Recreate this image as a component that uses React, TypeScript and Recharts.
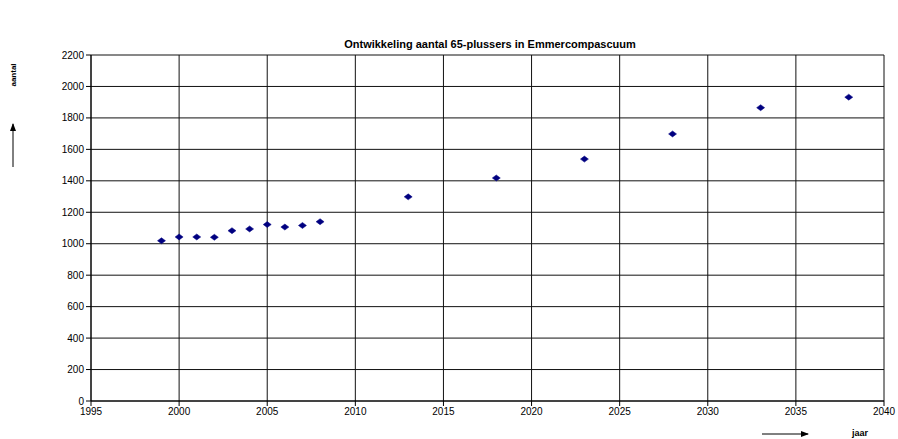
import React from 'react';
import { ScatterChart, Scatter, XAxis, YAxis, CartesianGrid } from 'recharts';

const years = [1999, 2000, 2001, 2002, 2003, 2004, 2005, 2006, 2007, 2008, 2013, 2018, 2023, 2028, 2033, 2038];
const counts = [1019, 1043, 1043, 1041, 1083, 1094, 1122, 1106, 1116, 1140, 1298, 1418, 1538, 1698, 1865, 1932];
const xTicks = [1995, 2000, 2005, 2010, 2015, 2020, 2025, 2030, 2035, 2040];
const yTicks = [0, 200, 400, 600, 800, 1000, 1200, 1400, 1600, 1800, 2000, 2200];
const title = 'Ontwikkeling aantal 65-plussers in Emmercompascuum';
const xLabel = 'jaar';
const yLabel = 'aantal';

const data = years.map((y, i) => ({ year: y, count: counts[i] }));

const Diamond = (props: any) => {
  const { cx, cy } = props;
  if (cx == null || cy == null) return null;
  return (
    <polygon
      points={`${cx - 4},${cy} ${cx},${cy - 3} ${cx + 4},${cy} ${cx},${cy + 3}`}
      fill="#000080"
      stroke="#000080"
      strokeWidth={0.5}
    />
  );
};

const font = '"Liberation Sans", Arial, sans-serif';

export default function App() {
  return (
    <div style={{ position: 'absolute', left: 0, top: 0, width: 898, height: 439, background: '#fff' }}>
      <ScatterChart
        width={898}
        height={439}
        margin={{ top: 55, right: 14, bottom: 18, left: 51 }}
        style={{ fontFamily: font }}
      >
        <CartesianGrid stroke="#111" strokeWidth={1} />
        <XAxis
          type="number"
          dataKey="year"
          domain={[1995, 2040]}
          ticks={xTicks}
          interval={0}
          height={20}
          axisLine={{ stroke: '#000' }}
          tickLine={{ stroke: '#000' }}
          tickSize={5}
          tick={{ fill: '#000', fontSize: 10, fontFamily: font }}
        />
        <YAxis
          type="number"
          dataKey="count"
          domain={[0, 2200]}
          ticks={yTicks}
          interval={0}
          width={40}
          axisLine={{ stroke: '#000' }}
          tickLine={{ stroke: '#000' }}
          tickSize={5}
          tick={{ fill: '#000', fontSize: 10, fontFamily: font }}
        />
        <Scatter data={data} shape={Diamond} isAnimationActive={false} />
      </ScatterChart>
      <svg width={898} height={439} style={{ position: 'absolute', left: 0, top: 0, pointerEvents: 'none' }}>
        <defs>
          <marker id="ah" markerWidth="8" markerHeight="6" refX="7" refY="3" orient="auto" markerUnits="userSpaceOnUse">
            <path d="M0,0 L8,3 L0,6 Z" fill="#000" />
          </marker>
        </defs>
        <text x={490} y={48} textAnchor="middle" fontFamily={font} fontWeight="bold" fontSize={11} fill="#000">
          {title}
        </text>
        <text
          x={16}
          y={75}
          textAnchor="middle"
          fontFamily={font}
          fontWeight="bold"
          fontSize={8}
          fill="#000"
          transform="rotate(-90 16 75)"
        >
          {yLabel}
        </text>
        <line x1={13} y1={167} x2={13} y2={124} stroke="#000" strokeWidth={1} markerEnd="url(#ah)" />
        <text x={860} y={436} textAnchor="middle" fontFamily={font} fontWeight="bold" fontSize={9} fill="#000">
          {xLabel}
        </text>
        <line x1={762} y1={434} x2={808} y2={434} stroke="#000" strokeWidth={1} markerEnd="url(#ah)" />
      </svg>
    </div>
  );
}
